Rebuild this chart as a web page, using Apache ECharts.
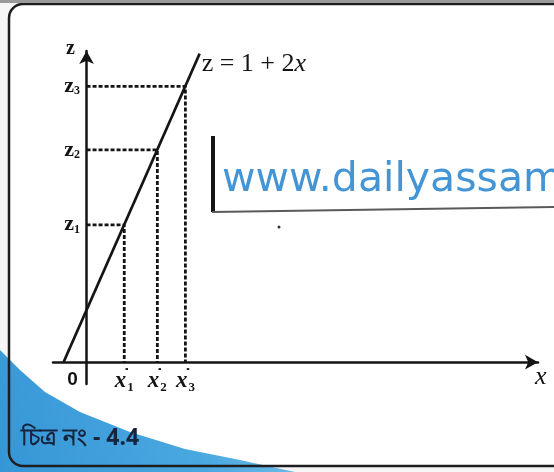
<!DOCTYPE html>
<html>
<head>
<meta charset="utf-8">
<script src="https://cdn.jsdelivr.net/npm/echarts@6/dist/echarts.min.js"></script>
<style>
html,body{margin:0;padding:0;background:#f6f6f6;}
#c{width:554px;height:472px;}
</style>
</head>
<body>
<div id="c"></div>
<script>
// line z = 1 + 2x (endpoints)
const lineX = [-0.5, 2.46];
const lineZ = [0, 5.93];
// marked points on the line
const pointX = [0.82, 1.54, 2.15];
const pointZ = [2.64, 4.08, 5.3];
// tick labels
const xTickLabels = ['0', '1', '2', '3'];   // '0' then subscripts of x'
const zTickLabels = ['1', '2', '3'];        // subscripts of z
const lineLabel = 'z = 1 + 2';
const caption = 'চিত্র নং - 4.4';
const watermark = 'www.dailyassam';

const ink = '#141414';
const xTickValues = [0].concat(pointX);

const guideSeries = pointX.map((x, i) => ({
  type: 'line',
  silent: true,
  symbol: 'none',
  data: [[0, pointZ[i]], [x, pointZ[i]], [x, 0]],
  lineStyle: { color: ink, width: 2.8, type: [4, 2] },
  z: 3
}));

const chart = echarts.init(document.getElementById('c'));
chart.setOption({
  backgroundColor: '#f6f6f6',
  animation: false,
  graphic: [
    { type: 'rect', z: -10, shape: { x: 9, y: 4, width: 560, height: 462, r: 14 },
      style: { fill: '#ffffff', stroke: null } },
    { type: 'polygon', z: -9,
      shape: { points: [[0, 350], [20, 370], [45, 392], [80, 412], [130, 432], [185, 449], [240, 460], [295, 472], [0, 472]] },
      style: { fill: { type: 'linear', x: 0, y: 1, x2: 1, y2: 0, colorStops: [
        { offset: 0, color: '#3596d6' }, { offset: 0.6, color: '#4aa8e0' }, { offset: 1, color: '#7cc3ec' }] } } },
    { type: 'rect', z: 20, shape: { x: 9, y: 4, width: 560, height: 462, r: 14 },
      style: { fill: null, stroke: '#1e1e1e', lineWidth: 2.5 } },
    { type: 'rect', z: 20, shape: { x: 0, y: 0, width: 554, height: 3 },
      style: { fill: '#9a9a9a' } },
    { type: 'line', z: 5, shape: { x1: 213, y1: 136, x2: 213, y2: 212 },
      style: { stroke: '#151515', lineWidth: 4 } },
    { type: 'line', z: 5, shape: { x1: 212, y1: 212, x2: 554, y2: 207 },
      style: { stroke: '#5a5a5a', lineWidth: 2 } },
    { type: 'circle', z: 5, shape: { cx: 279, cy: 227, r: 1.5 }, style: { fill: '#333' } },
    { type: 'text', z: 6, x: 222, y: 160,
      style: { text: watermark, font: '41px "DejaVu Sans"', fill: '#4395d6' } },
    { type: 'text', z: 21, x: 21, y: 427,
      style: { text: caption, font: 'bold 23px "Noto Sans", "DejaVu Sans"', fill: '#17243e' } }
  ],
  grid: { left: 53, right: 16, top: 51, bottom: 88, containLabel: false },
  xAxis: {
    type: 'value', min: -0.73, max: 9.82,
    splitLine: { show: false },
    axisTick: { show: false },
    axisLine: { onZero: true, symbol: ['none', 'arrow'], symbolSize: [11, 13],
      lineStyle: { color: ink, width: 2.5 } },
    name: 'x', nameLocation: 'end', nameGap: -3,
    nameTextStyle: { fontFamily: 'Liberation Serif', fontStyle: 'italic', fontSize: 26,
      color: ink, align: 'left', verticalAlign: 'top', padding: [2, 0, 0, 0] },
    axisLabel: {
      customValues: xTickValues,
      margin: -16,
      formatter: (v) => {
        const i = xTickValues.indexOf(v);
        if (i === 0) return '{o|' + xTickLabels[0] + '}';
        return '{x|x}{d|˙}{s|' + xTickLabels[i] + '}';
      },
      rich: {
        o: { fontFamily: 'Liberation Sans', fontWeight: 'bold', fontSize: 19, color: ink,
          padding: [0, 28, 0, 0], lineHeight: 24 },
        x: { fontFamily: 'Liberation Serif', fontStyle: 'italic', fontWeight: 'bold', fontSize: 23,
          color: ink, lineHeight: 26, verticalAlign: 'middle' },
        d: { fontFamily: 'Liberation Sans', fontWeight: 'bold', fontSize: 18, color: ink,
          lineHeight: 18, verticalAlign: 'top', width: 1 },
        s: { fontFamily: 'Liberation Serif', fontWeight: 'bold', fontSize: 13, color: ink,
          lineHeight: 13, verticalAlign: 'bottom' }
      }
    }
  },
  yAxis: {
    type: 'value', min: -0.42, max: 5.98,
    splitLine: { show: false },
    axisTick: { show: false },
    axisLine: { onZero: true, symbol: ['none', 'arrow'], symbolSize: [11, 13],
      lineStyle: { color: ink, width: 2.5 } },
    name: 'z', nameLocation: 'end', nameGap: -8,
    nameTextStyle: { fontFamily: 'Liberation Serif', fontWeight: 'bold', fontSize: 20,
      color: ink, padding: [0, 32, 0, 0] },
    axisLabel: {
      customValues: pointZ,
      margin: -27,
      formatter: (v) => '{z|z}{s|' + zTickLabels[pointZ.indexOf(v)] + '}',
      rich: {
        z: { fontFamily: 'Liberation Serif', fontWeight: 'bold', fontSize: 22, color: ink,
          lineHeight: 22, verticalAlign: 'middle' },
        s: { fontFamily: 'Liberation Serif', fontWeight: 'bold', fontSize: 12, color: ink,
          lineHeight: 12, verticalAlign: 'bottom' }
      }
    }
  },
  series: [
    {
      type: 'line', symbol: 'none', z: 4,
      data: lineX.map((x, i) => [x, lineZ[i]]),
      lineStyle: { color: ink, width: 2.6 },
      endLabel: {
        show: true, distance: 2, offset: [0, 11],
        formatter: '{a|' + lineLabel + '}{i|x}',
        rich: {
          a: { fontFamily: 'Liberation Serif', fontSize: 26, color: ink },
          i: { fontFamily: 'Liberation Serif', fontStyle: 'italic', fontSize: 26, color: ink }
        }
      }
    }
  ].concat(guideSeries)
});
</script>
</body>
</html>
